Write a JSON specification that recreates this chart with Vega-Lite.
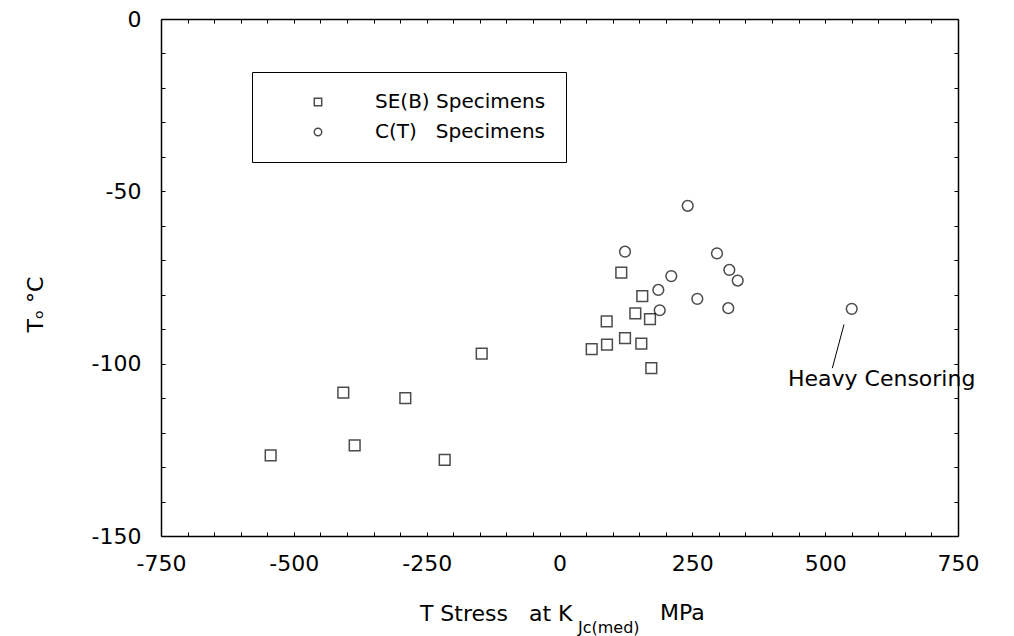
{
  "$schema": "https://vega.github.io/schema/vega-lite/v6.json",
  "width": 797,
  "height": 517,
  "autosize": {"type": "none"},
  "padding": {"left": 161, "top": 19, "right": 56, "bottom": 100},
  "background": "white",
  "config": {
    "font": "DejaVu Sans",
    "view": {"stroke": null},
    "axis": {
      "grid": false,
      "domainColor": "black",
      "domainWidth": 1.5,
      "tickColor": "black",
      "tickWidth": 1,
      "tickSize": -4,
      "labelColor": "black",
      "labelFontSize": 22,
      "labelFont": "DejaVu Sans",
      "titleColor": "black",
      "titleFont": "DejaVu Sans",
      "titleFontSize": 22,
      "titleFontWeight": "normal"
    }
  },
  "datasets": {
    "pts": [
      {"series": "SE(B) Specimens", "tstress": 116.3, "t0": -73.6},
      {"series": "SE(B) Specimens", "tstress": 155.8, "t0": -80.4},
      {"series": "SE(B) Specimens", "tstress": 142.7, "t0": -85.4},
      {"series": "SE(B) Specimens", "tstress": 170.3, "t0": -87.1},
      {"series": "SE(B) Specimens", "tstress": 88.8, "t0": -87.7},
      {"series": "SE(B) Specimens", "tstress": 60.6, "t0": -95.8},
      {"series": "SE(B) Specimens", "tstress": 89.4, "t0": -94.5},
      {"series": "SE(B) Specimens", "tstress": 123.3, "t0": -92.6},
      {"series": "SE(B) Specimens", "tstress": 154.0, "t0": -94.2},
      {"series": "SE(B) Specimens", "tstress": 172.8, "t0": -101.3},
      {"series": "SE(B) Specimens", "tstress": -146.4, "t0": -97.1},
      {"series": "SE(B) Specimens", "tstress": -406.9, "t0": -108.4},
      {"series": "SE(B) Specimens", "tstress": -290.2, "t0": -110.0},
      {"series": "SE(B) Specimens", "tstress": -543.6, "t0": -126.6},
      {"series": "SE(B) Specimens", "tstress": -385.5, "t0": -123.7},
      {"series": "SE(B) Specimens", "tstress": -216.1, "t0": -127.9},
      {"series": "C(T)\u00a0\u00a0\u00a0Specimens", "tstress": 241.3, "t0": -54.2},
      {"series": "C(T)\u00a0\u00a0\u00a0Specimens", "tstress": 123.3, "t0": -67.5},
      {"series": "C(T)\u00a0\u00a0\u00a0Specimens", "tstress": 296.4, "t0": -68.0},
      {"series": "C(T)\u00a0\u00a0\u00a0Specimens", "tstress": 319.6, "t0": -72.8},
      {"series": "C(T)\u00a0\u00a0\u00a0Specimens", "tstress": 335.4, "t0": -75.9},
      {"series": "C(T)\u00a0\u00a0\u00a0Specimens", "tstress": 210.4, "t0": -74.6},
      {"series": "C(T)\u00a0\u00a0\u00a0Specimens", "tstress": 186.0, "t0": -78.6},
      {"series": "C(T)\u00a0\u00a0\u00a0Specimens", "tstress": 259.4, "t0": -81.2},
      {"series": "C(T)\u00a0\u00a0\u00a0Specimens", "tstress": 188.6, "t0": -84.5},
      {"series": "C(T)\u00a0\u00a0\u00a0Specimens", "tstress": 317.7, "t0": -83.9},
      {"series": "C(T)\u00a0\u00a0\u00a0Specimens", "tstress": 550.0, "t0": -84.1}
    ],
    "callout": [
      {"tstress": 535.5, "t0": -88.6},
      {"tstress": 513.5, "t0": -101.3}
    ],
    "notes": [
      {"label": "Heavy Censoring", "tstress": 430, "t0": -104.4}
    ],
    "titleparts": [
      {"label": "Jc(med)", "tstress": 34.8, "t0": -176.7}
    ],
    "titleunit": [
      {"label": "MPa", "tstress": 189, "t0": -174.4}
    ]
  },
  "layer": [
    {
      "data": {"name": "pts"},
      "mark": {"type": "point", "filled": false, "color": "black", "strokeWidth": 1.5, "size": 115},
      "encoding": {
        "x": {
          "field": "tstress", "type": "quantitative",
          "scale": {"domain": [-750, 750], "nice": false, "zero": false},
          "axis": {
            "orient": "bottom",
            "values": [-750,-700,-650,-600,-550,-500,-450,-400,-350,-300,-250,-200,-150,-100,-50,0,50,100,150,200,250,300,350,400,450,500,550,600,650,700,750],
            "labelExpr": "datum.value % 250 === 0 ? toString(datum.value) : ''",
            "labelPadding": 21,
            "labelFlush": false,
            "labelOverlap": false,
            "title": "T Stress\u00a0\u00a0 at K",
            "titleAlign": "right",
            "titleAnchor": "start",
            "titleX": 411,
            "titleY": 84,
            "titleBaseline": "alphabetic"
          }
        },
        "y": {
          "field": "t0", "type": "quantitative",
          "scale": {"domain": [-150, 0], "nice": false, "zero": false},
          "axis": {
            "orient": "left",
            "values": [-150,-140,-130,-120,-110,-100,-90,-80,-70,-60,-50,-40,-30,-20,-10,0],
            "labelExpr": "datum.value % 50 === 0 ? toString(datum.value) : ''",
            "labelPadding": 24,
            "labelFlush": false,
            "labelOverlap": false,
            "title": "Tₒ °C",
            "titleAngle": -90,
            "titleAlign": "center",
            "titleBaseline": "middle",
            "titleX": -126,
            "titleY": 285
          }
        },
        "shape": {
          "field": "series", "type": "nominal",
          "scale": {"domain": ["SE(B) Specimens", "C(T)\u00a0\u00a0\u00a0Specimens"], "range": ["square", "circle"]},
          "legend": {
            "orient": "none",
            "legendX": 91,
            "legendY": 53,
            "title": null,
            "strokeColor": "black",
            "fillColor": "white",
            "padding": 20,
            "symbolSize": 55,
            "symbolStrokeColor": "black",
            "symbolOffset": 36,
            "labelOffset": 47,
            "labelLimit": 500,
            "labelFontSize": 20,
            "labelColor": "black",
            "rowPadding": 10,
            "labelExpr": "datum.label + '\u00a0\u00a0\u00a0\u00a0\u00a0\u00a0\u00a0\u00a0\u00a0\u00a0\u00a0\u00a0\u00a0\u00a0\u00a0\u00a0'"
          }
        }
      }
    },
    {
      "data": {"name": "pts"},
      "mark": {"type": "point", "opacity": 0},
      "encoding": {
        "x": {
          "field": "tstress", "type": "quantitative",
          "scale": {"domain": [-750, 750], "nice": false, "zero": false},
          "axis": {
            "orient": "top",
            "values": [-750,-700,-650,-600,-550,-500,-450,-400,-350,-300,-250,-200,-150,-100,-50,0,50,100,150,200,250,300,350,400,450,500,550,600,650,700,750],
            "labels": false,
            "title": null
          }
        },
        "y": {
          "field": "t0", "type": "quantitative",
          "scale": {"domain": [-150, 0], "nice": false, "zero": false},
          "axis": {
            "orient": "right",
            "values": [-150,-140,-130,-120,-110,-100,-90,-80,-70,-60,-50,-40,-30,-20,-10,0],
            "labels": false,
            "title": null
          }
        }
      }
    },
    {
      "data": {"name": "callout"},
      "mark": {"type": "line", "color": "black", "strokeWidth": 1},
      "encoding": {
        "x": {"field": "tstress", "type": "quantitative", "axis": null, "scale": {"domain": [-750, 750], "nice": false, "zero": false}},
        "y": {"field": "t0", "type": "quantitative", "axis": null, "scale": {"domain": [-150, 0], "nice": false, "zero": false}}
      }
    },
    {
      "data": {"name": "notes"},
      "mark": {"type": "text", "align": "left", "baseline": "middle", "fontSize": 22, "color": "black"},
      "encoding": {
        "x": {"field": "tstress", "type": "quantitative", "axis": null, "scale": {"domain": [-750, 750], "nice": false, "zero": false}},
        "y": {"field": "t0", "type": "quantitative", "axis": null, "scale": {"domain": [-150, 0], "nice": false, "zero": false}},
        "text": {"field": "label"}
      }
    },
    {
      "data": {"name": "titleparts"},
      "mark": {"type": "text", "align": "left", "baseline": "middle", "fontSize": 16, "color": "black"},
      "encoding": {
        "x": {"field": "tstress", "type": "quantitative", "axis": null, "scale": {"domain": [-750, 750], "nice": false, "zero": false}},
        "y": {"field": "t0", "type": "quantitative", "axis": null, "scale": {"domain": [-150, 0], "nice": false, "zero": false}},
        "text": {"field": "label"}
      }
    },
    {
      "data": {"name": "titleunit"},
      "mark": {"type": "text", "align": "left", "baseline": "alphabetic", "fontSize": 22, "color": "black"},
      "encoding": {
        "x": {"field": "tstress", "type": "quantitative", "axis": null, "scale": {"domain": [-750, 750], "nice": false, "zero": false}},
        "y": {"field": "t0", "type": "quantitative", "axis": null, "scale": {"domain": [-150, 0], "nice": false, "zero": false}},
        "text": {"field": "label"}
      }
    }
  ],
  "resolve": {"axis": {"x": "independent", "y": "independent"}}
}
